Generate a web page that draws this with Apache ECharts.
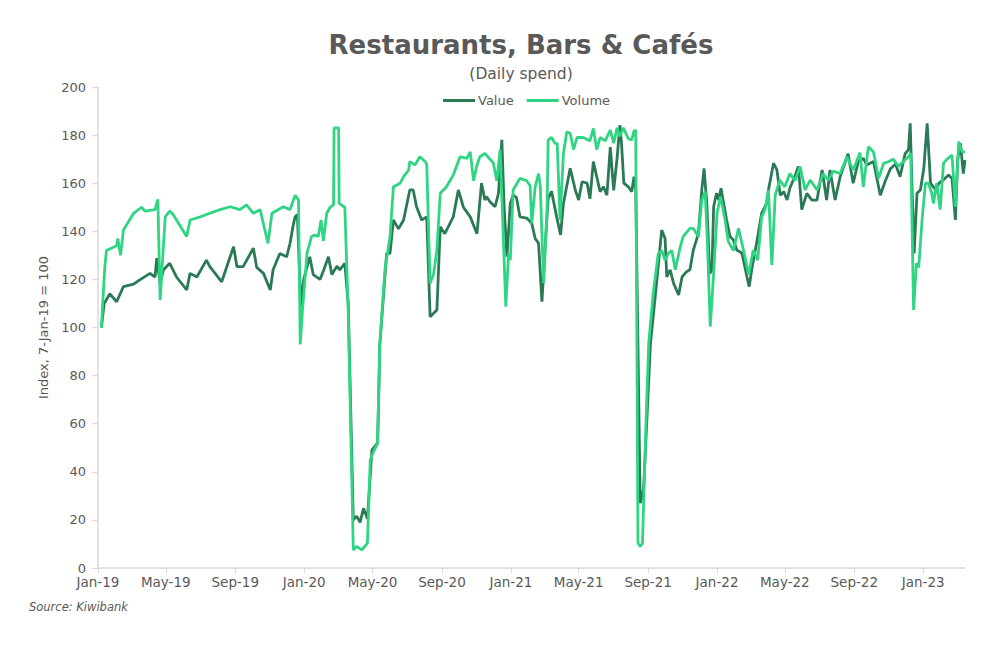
<!DOCTYPE html>
<html>
<head>
<meta charset="utf-8">
<script src="https://cdn.jsdelivr.net/npm/echarts@6/dist/echarts.min.js"></script>
<style>
  html, body { margin: 0; padding: 0; background: #ffffff; }
  #chart { width: 1000px; height: 664px; }
</style>
</head>
<body>
<div id="chart"></div>
<script>
// ---- Data ----
const titleText = 'Restaurants, Bars & Cafés';
const subtitleText = '(Daily spend)';
const yAxisName = 'Index, 7-Jan-19 = 100';
const sourceText = 'Source: Kiwibank';
const seriesNames = ['Value', 'Volume'];

const tickLabels = ['Jan-19','May-19','Sep-19','Jan-20','May-20','Sep-20','Jan-21','May-21','Sep-21','Jan-22','May-22','Sep-22','Jan-23'];
const tickDates  = ['2019-01-01','2019-05-01','2019-09-01','2020-01-01','2020-05-01','2020-09-01','2021-01-01','2021-05-01','2021-09-01','2022-01-01','2022-05-01','2022-09-01','2023-01-01'];
const axisStart = '2019-01-01';
const axisEnd = '2023-03-16';

const valueDates = [
 '2019-01-07','2019-01-12','2019-01-22','2019-02-03','2019-02-15','2019-03-05','2019-03-16','2019-04-03','2019-04-12','2019-04-15',
 '2019-04-21','2019-04-27','2019-05-08','2019-05-20','2019-06-07','2019-06-13','2019-06-25','2019-07-12','2019-07-18','2019-08-08',
 '2019-08-29','2019-09-04','2019-09-15','2019-10-03','2019-10-09','2019-10-21','2019-11-02','2019-11-07','2019-11-19','2019-12-01',
 '2019-12-07','2019-12-13','2019-12-16','2019-12-20','2019-12-26','2019-12-31','2020-01-11','2020-01-17','2020-01-29','2020-02-04',
 '2020-02-13','2020-02-19','2020-02-28','2020-03-04','2020-03-13','2020-03-19','2020-03-28','2020-04-03','2020-04-09','2020-04-15',
 '2020-04-22','2020-04-30','2020-05-10','2020-05-14','2020-05-26','2020-06-01','2020-06-07','2020-06-16','2020-06-25','2020-07-06',
 '2020-07-12','2020-07-18','2020-07-27','2020-08-05','2020-08-11','2020-08-23','2020-08-29','2020-09-06','2020-09-21','2020-09-30',
 '2020-10-09','2020-10-21','2020-11-02','2020-11-10','2020-11-16','2020-11-19','2020-11-25','2020-12-04','2020-12-10','2020-12-16',
 '2020-12-20','2020-12-25','2020-12-31','2021-01-05','2021-01-11','2021-01-17','2021-01-29','2021-02-07','2021-02-13','2021-02-19',
 '2021-02-25','2021-03-03','2021-03-08','2021-03-14','2021-03-23','2021-03-30','2021-04-04','2021-04-16','2021-04-25','2021-05-01',
 '2021-05-07','2021-05-16','2021-05-21','2021-05-27','2021-06-02','2021-06-08','2021-06-14','2021-06-20','2021-06-26','2021-07-02',
 '2021-07-08','2021-07-13','2021-07-16','2021-07-20','2021-07-28','2021-08-03','2021-08-07','2021-08-10','2021-08-18','2021-08-24',
 '2021-09-05','2021-09-17','2021-09-25','2021-10-01','2021-10-04','2021-10-10','2021-10-16','2021-10-25','2021-10-31','2021-11-08',
 '2021-11-14','2021-11-20','2021-11-29','2021-12-05','2021-12-09','2021-12-14','2021-12-19','2021-12-23','2021-12-26','2021-12-31',
 '2022-01-04','2022-01-08','2022-01-12','2022-01-18','2022-01-24','2022-01-30','2022-02-05','2022-02-14','2022-02-23','2022-02-27',
 '2022-03-04','2022-03-12','2022-03-21','2022-03-30','2022-04-02','2022-04-11','2022-04-17','2022-04-23','2022-04-29','2022-05-05',
 '2022-05-10','2022-05-19','2022-05-25','2022-05-31','2022-06-09','2022-06-18','2022-06-27','2022-07-06','2022-07-14','2022-07-20',
 '2022-07-29','2022-08-07','2022-08-21','2022-08-30','2022-09-08','2022-09-17','2022-09-23','2022-10-05','2022-10-17','2022-10-26',
 '2022-11-04','2022-11-13','2022-11-21','2022-11-30','2022-12-06','2022-12-09','2022-12-12','2022-12-16','2022-12-21','2022-12-27',
 '2023-01-02','2023-01-08','2023-01-14','2023-01-23','2023-01-29','2023-02-06','2023-02-15','2023-02-21','2023-02-27','2023-03-03',
 '2023-03-08','2023-03-13','2023-03-16'
];
const valueVals = [
 100,110,114,110.7,117,118,119.8,122.5,121,128.8,
 118.4,124,126.7,121,115.6,122.5,121,128,125.3,119,
 133.6,125.3,125.3,133,125,122.5,115.6,124,130.8,129.4,
 135,143,146,147,108.7,119.8,129.4,122,120,123.5,
 129.4,122,125.5,124,126.7,110,20,21.6,19,24.8,
 20.5,49,52,93,130.8,130.8,144.7,141,144.7,157.2,
 157.2,150.2,144.7,146,104.5,107.3,141.9,139,146,157.2,
 150,146,139,160,153,154.4,152.3,150.2,155.8,178,
 150.2,129.4,151.6,155,154,146,145.5,143.3,137,135,
 110.7,135,153.7,156.6,146,138.5,151.6,166.2,157.2,153,
 160.6,160,153.5,169,162.7,156.5,158.5,155,175,157,
 170.3,184.2,176,160,158.5,156.5,162.7,158,26.9,33,
 93,121,140.5,137,121,124,118.4,113.5,121,123.2,
 124,132.2,139,157.2,166.2,151,122.5,124,150.2,155.8,
 153,157.9,152.5,144.7,137.8,136.4,132.2,131,121,117,
 125,135,147.5,151.6,157.2,168.3,165.5,155,156.5,153,
 158,163,167,149,155.8,153,153,165.5,153,165.5,
 153,162.7,172.3,160,169,170.3,167.6,169,155,161,
 166,168,162.7,172.3,174,184.9,160,130.8,155.8,157.2,
 166,184.9,160,157.2,160,161.5,163.4,162,144.7,170,
 176.6,164,169.6
];

const volumeDates = [
 '2019-01-07','2019-01-13','2019-01-16','2019-02-03','2019-02-05','2019-02-10','2019-02-15','2019-03-05','2019-03-19','2019-03-25',
 '2019-04-12','2019-04-17','2019-04-21','2019-04-30','2019-05-08','2019-05-14','2019-06-07','2019-06-13','2019-07-01','2019-07-18',
 '2019-08-05','2019-08-23','2019-09-09','2019-09-21','2019-10-03','2019-10-15','2019-10-29','2019-11-05','2019-11-25','2019-12-07',
 '2019-12-16','2019-12-22','2019-12-25','2019-12-29','2020-01-06','2020-01-14','2020-01-20','2020-01-26','2020-01-31','2020-02-04',
 '2020-02-10','2020-02-16','2020-02-22','2020-02-23','2020-03-02','2020-03-03','2020-03-13','2020-03-19','2020-03-28','2020-04-03',
 '2020-04-12','2020-04-22','2020-04-27','2020-05-02','2020-05-10','2020-05-14','2020-05-23','2020-06-01','2020-06-07','2020-06-19',
 '2020-06-25','2020-07-04','2020-07-06','2020-07-15','2020-07-24','2020-08-02','2020-08-05','2020-08-11','2020-08-17','2020-08-23',
 '2020-08-29','2020-09-09','2020-09-21','2020-10-03','2020-10-15','2020-10-21','2020-10-27','2020-11-02','2020-11-07','2020-11-16',
 '2020-12-01','2020-12-07','2020-12-13','2020-12-23','2020-12-28','2020-12-31','2021-01-05','2021-01-17','2021-01-29','2021-02-04',
 '2021-02-07','2021-02-13','2021-02-19','2021-02-22','2021-02-28','2021-03-06','2021-03-08','2021-03-14','2021-03-20','2021-03-24',
 '2021-03-29','2021-04-04','2021-04-10','2021-04-16','2021-04-22','2021-04-28','2021-05-09','2021-05-21','2021-05-27','2021-06-02',
 '2021-06-08','2021-06-17','2021-06-26','2021-07-02','2021-07-08','2021-07-13','2021-07-19','2021-07-28','2021-08-03','2021-08-07',
 '2021-08-10','2021-08-14','2021-08-18','2021-08-22','2021-08-27','2021-09-02','2021-09-10','2021-09-19','2021-09-25','2021-10-01',
 '2021-10-07','2021-10-13','2021-10-19','2021-10-28','2021-11-02','2021-11-14','2021-11-20','2021-11-29','2021-12-05','2021-12-11',
 '2021-12-15','2021-12-20','2021-12-26','2022-01-01','2022-01-07','2022-01-11','2022-01-15','2022-01-21','2022-01-30','2022-02-08',
 '2022-02-17','2022-02-26','2022-03-06','2022-03-14','2022-03-21','2022-03-27','2022-04-02','2022-04-08','2022-04-14','2022-04-22',
 '2022-05-01','2022-05-10','2022-05-19','2022-05-28','2022-06-06','2022-06-15','2022-06-27','2022-07-08','2022-07-17','2022-07-26',
 '2022-08-07','2022-08-19','2022-08-30','2022-09-11','2022-09-17','2022-09-26','2022-10-05','2022-10-14','2022-10-23','2022-11-01',
 '2022-11-09','2022-11-18','2022-11-27','2022-12-06','2022-12-10','2022-12-15','2022-12-20','2022-12-24','2022-12-30','2023-01-05',
 '2023-01-10','2023-01-16','2023-01-19','2023-01-25','2023-01-31','2023-02-06','2023-02-12','2023-02-21','2023-02-27','2023-03-05',
 '2023-03-11','2023-03-16'
];
const volumeVals = [
 100,125,132,134,137,130,140.5,147.5,150,148.4,
 149,153.3,111.4,146,148.4,147,137.8,144.7,146,147.5,
 149,150.2,149,151,147.5,149,135,147.5,150.2,149,
 155,153,93,107,130.8,137.8,138.5,137.8,144.7,136,
 147.5,150,151,183,183,151.6,150,107,7.5,9,
 7.5,10.3,45,48,51.8,93.4,124,137.8,158.5,160,
 162.7,165.5,169,167.6,171,169,168,118.4,122,132.2,
 155.8,158.5,163.4,171,170.3,173,161,167.6,171,172.4,
 168.4,161,174,108.7,130.8,128,157.2,162,161,159,
 143.3,158.5,164,159,118.4,149,178,179,176.6,176.6,
 144.7,172.3,181.4,180.7,174,179,179,177.6,182.8,174,
 179,177.6,182.1,176.6,183,179.5,183,178.5,178,181.8,
 182,10.3,9,10.3,51.8,93.4,114.2,130.8,132,128,
 130.8,132,124,133.6,137.8,141.2,141.2,137.8,153,156.5,
 135,100.3,122.5,147.5,154.4,150,145,135.7,132,141.2,
 132,121.8,132.2,128,146,149,157.2,126,155,161.3,
 158.5,164,161,166.9,157.2,161.3,157.2,164,161.3,165,
 164,171,165.5,172.7,158.5,175.2,173,162,168.3,169,
 170,167,169,171,172.5,107.3,126.7,125,144.7,160,
 160,156,151.6,160,149,168.3,170,171.7,150.2,177.3,
 173,173
];

// ---- Build chart ----
const DAY = 86400000;
const base = Date.UTC(2019, 0, 1);
const dayOf = s => (Date.parse(s + 'T00:00:00Z') - base) / DAY;
const tickDays = tickDates.map(dayOf);
const pairs = (dates, vals) => dates.map((d, i) => [dayOf(d), vals[i]]);

const textColor = '#595959';
const axisColor = '#D9D9D9';
const font = '"DejaVu Sans", sans-serif';

const chart = echarts.init(document.getElementById('chart'), null, { renderer: 'svg' });
chart.setOption({
  backgroundColor: '#ffffff',
  animation: false,
  textStyle: { fontFamily: font, color: textColor },
  graphic: [
    { type: 'text', x: 521, y: 45, style: { text: titleText, fill: textColor, font: 'bold 26px ' + font, textAlign: 'center', textVerticalAlign: 'middle' } },
    { type: 'text', x: 521, y: 74, style: { text: subtitleText, fill: textColor, font: '15.5px ' + font, textAlign: 'center', textVerticalAlign: 'middle' } },
    { type: 'text', x: 29, y: 607, style: { text: sourceText, fill: textColor, font: 'italic 11.5px ' + font, textAlign: 'left', textVerticalAlign: 'middle' } }
  ],
  legend: {
    data: seriesNames,
    left: 438,
    top: 89,
    itemWidth: 32,
    itemHeight: 3,
    itemGap: 13,
    icon: 'rect',
    textStyle: { color: textColor, fontSize: 13, fontFamily: font, padding: [0, 0, 0, -2] }
  },
  grid: { left: 98, right: 35, top: 87, bottom: 96, containLabel: false },
  xAxis: {
    type: 'value',
    min: dayOf(axisStart),
    max: dayOf(axisEnd),
    splitLine: { show: false },
    axisLine: { show: true, lineStyle: { color: axisColor, width: 1.5 } },
    axisTick: { show: true, customValues: tickDays, length: 5, lineStyle: { color: axisColor } },
    axisLabel: {
      customValues: tickDays,
      color: textColor, fontSize: 13.5, fontFamily: font, margin: 7, lineHeight: 14,
      formatter: v => {
        let best = 0;
        tickDays.forEach((t, i) => { if (Math.abs(t - v) < Math.abs(tickDays[best] - v)) best = i; });
        return tickLabels[best];
      }
    }
  },
  yAxis: {
    type: 'value',
    min: 0, max: 200, interval: 20,
    name: yAxisName,
    nameLocation: 'middle',
    nameGap: 45,
    nameTextStyle: { color: textColor, fontSize: 13, fontFamily: font },
    splitLine: { show: false },
    axisLine: { show: true, lineStyle: { color: axisColor, width: 1.5 } },
    axisTick: { show: true, length: 6, lineStyle: { color: axisColor } },
    axisLabel: { color: textColor, fontSize: 13, fontFamily: font, margin: 12, lineHeight: 11 }
  },
  series: [
    {
      name: seriesNames[0], type: 'line', data: pairs(valueDates, valueVals),
      showSymbol: false, symbol: 'none',
      itemStyle: { color: '#2A7A55' },
      lineStyle: { color: '#2A7A55', width: 2.8 }
    },
    {
      name: seriesNames[1], type: 'line', data: pairs(volumeDates, volumeVals),
      showSymbol: false, symbol: 'none',
      itemStyle: { color: '#2FD583' },
      lineStyle: { color: '#2FD583', width: 2.8 }
    }
  ]
});
</script>
</body>
</html>
